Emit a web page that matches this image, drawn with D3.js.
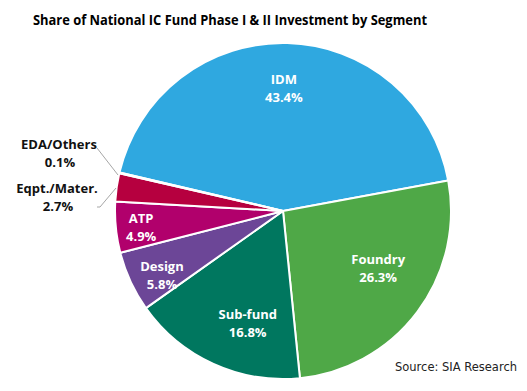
<!DOCTYPE html>
<html><head><meta charset="utf-8">
<script src="https://cdn.jsdelivr.net/npm/d3@7"></script>
<style>body{margin:0;background:#fff}svg{display:block}</style>
</head><body>
<script>
const categories = ["IDM","Foundry","Sub-fund","Design","ATP","Eqpt./Mater.","EDA/Others"];
const values = [43.4, 26.3, 16.8, 5.8, 4.9, 2.7, 0.1];
const colors = ["#2FA8E0","#4FA847","#00775F","#6C4697","#B1006C","#B6003F","#F2B233"];
const title = "Share of National IC Fund Phase I & II Investment by Segment";
const source = "Source: SIA Research";

const W = 527, H = 391;
const svg = d3.select("body").append("svg").attr("width", W).attr("height", H);
const cx = 283, cy = 211, R = 168;
const start = -76.7 * Math.PI / 180;

const data = categories.map((c, i) => ({cat: c, val: values[i], color: colors[i]}));
const pie = d3.pie().value(d => d.val).sort(null).startAngle(start).endAngle(start + 2 * Math.PI);
const arcs = pie(data);
const arc = d3.arc().innerRadius(0).outerRadius(R);
const g = svg.append("g").attr("transform", `translate(${cx},${cy})`);
g.selectAll("path").data(arcs).join("path")
  .attr("d", arc).attr("fill", d => d.data.color)
  .attr("stroke", "#fff").attr("stroke-width", 2).attr("stroke-linejoin", "round");

// inside labels: [radius fraction, angle shift in degrees from the slice middle]
const inner = {"IDM": [0.73, -1], "Foundry": [0.66, -6], "Sub-fund": [0.70, -7], "Design": [0.815, -3], "ATP": [0.85, -1]};
const font = "'Open Sans', sans-serif";
arcs.forEach(a => {
  const k = inner[a.data.cat];
  if (!k) return;
  const m = (a.startAngle + a.endAngle) / 2 + k[1] * Math.PI / 180;
  const x = Math.sin(m) * R * k[0], y = -Math.cos(m) * R * k[0];
  const t = g.append("text").attr("text-anchor", "middle").attr("fill", "#fff")
    .attr("font-family", font).attr("font-weight", "bold").attr("font-size", 13);
  t.append("tspan").attr("x", x).attr("y", y - 4).text(a.data.cat);
  t.append("tspan").attr("x", x).attr("y", y + 14).text(a.data.val.toFixed(1) + "%");
});

// outside labels
const outside = {"EDA/Others": {lx: 59, ly: 149, path: [[97,148],[118,175]]},
                 "Eqpt./Mater.": {lx: 57, ly: 193, path: [[97,207],[100,207],[116,188]]}};
arcs.forEach(a => {
  const o = outside[a.data.cat];
  if (!o) return;
  svg.append("path").attr("d", d3.line()(o.path)).attr("fill", "none")
    .attr("stroke", "#a6a6a6").attr("stroke-width", 1);
  const t = svg.append("text").attr("text-anchor", "middle").attr("fill", "#111")
    .attr("font-family", font).attr("font-weight", "bold").attr("font-size", 13);
  t.append("tspan").attr("x", o.lx).attr("y", o.ly).text(a.data.cat);
  t.append("tspan").attr("x", o.lx + 1).attr("y", o.ly + 18).text(a.data.val.toFixed(1) + "%");
});

svg.append("text").attr("x", 33).attr("y", 25).attr("font-family", font)
  .attr("font-weight", "bold").attr("font-size", 14).attr("fill", "#000")
  .attr("textLength", 394).attr("lengthAdjust", "spacingAndGlyphs").text(title);

svg.append("text").attr("x", 517).attr("y", 371).attr("text-anchor", "end")
  .attr("font-family", "'DejaVu Sans', sans-serif").attr("font-size", 11.5).attr("fill", "#222")
  .text(source);
</script>
</body></html>
